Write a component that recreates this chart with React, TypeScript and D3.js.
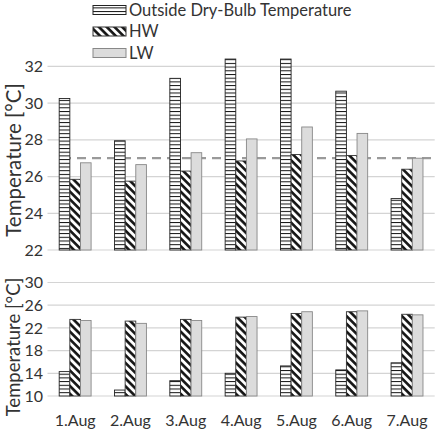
import React from "react";
import * as d3 from "d3";

// Daily values, 1-7 August
const days = ["1.Aug", "2.Aug", "3.Aug", "4.Aug", "5.Aug", "6.Aug", "7.Aug"];
const seriesKeys = ["outside", "hw", "lw"];

// Daily maximum (top panel)
const maxOutside = [30.25, 27.95, 31.35, 32.4, 32.4, 30.65, 24.8];
const maxHW = [25.85, 25.75, 26.3, 26.85, 27.2, 27.15, 26.4];
const maxLW = [26.75, 26.65, 27.3, 28.05, 28.7, 28.35, 27.0];
const maxTicks = [22, 24, 26, 28, 30, 32];
const comfortLimit = 27;

// Daily minimum (bottom panel)
const minOutside = [14.3, 11.05, 12.7, 14.0, 15.3, 14.6, 15.85];
const minHW = [23.5, 23.2, 23.5, 23.9, 24.55, 24.85, 24.4];
const minLW = [23.3, 22.8, 23.3, 24.0, 24.85, 25.0, 24.3];
const minTicks = [10, 14, 18, 22, 26, 30];

const legendItems = [
  { key: "outside", label: "Outside Dry-Bulb Temperature" },
  { key: "hw", label: "HW" },
  { key: "lw", label: "LW" },
];

const W = 442;
const H = 434;
const FONT = "Lato, 'Open Sans', sans-serif";
const TEXT = "#333";
const GRID = "#d4d4d4";

const fills: Record<string, string> = {
  outside: "url(#hstripe)",
  hw: "url(#diag)",
  lw: "#dcdcdc",
};
const strokes: Record<string, string> = {
  outside: "#222",
  hw: "#333",
  lw: "#888",
};

const x0 = d3.scaleBand<string>().domain(days).range([47.5, 434.7]);
const x1 = d3.scaleBand<string>().domain(seriesKeys).range([11.7, 43.6]);

type PanelProps = {
  values: number[][];
  domain: [number, number];
  range: [number, number];
  ticks: number[];
  labelY: number;
  labelSize: number;
  limit?: number;
};

const Panel = ({ values, domain, range, ticks, labelY, labelSize, limit }: PanelProps) => {
  const y = d3.scaleLinear().domain(domain).range(range);
  const [left, right] = x0.range();
  return (
    <g>
      {ticks.map((t) => (
        <g key={t}>
          <line x1={left} x2={right} y1={y(t)} y2={y(t)} stroke={GRID} strokeWidth={1.2} />
          <text x={43} y={y(t)} dy="0.35em" textAnchor="end" fontSize={16} fill={TEXT}>
            {t}
          </text>
        </g>
      ))}
      {limit !== undefined && (
        <line
          x1={62}
          x2={432}
          y1={y(limit)}
          y2={y(limit)}
          stroke="#9a9a9a"
          strokeWidth={2.2}
          strokeDasharray="9 6"
        />
      )}
      {days.map((d, i) => (
        <g key={d} transform={`translate(${x0(d)},0)`}>
          {seriesKeys.map((k, j) => {
            const v = values[j][i];
            return (
              <rect
                key={k}
                x={x1(k)}
                y={y(v)}
                width={x1.bandwidth()}
                height={y(domain[0]) - y(v)}
                fill={fills[k]}
                stroke={strokes[k]}
                strokeWidth={0.9}
              />
            );
          })}
        </g>
      ))}
      <text
        transform={`translate(14,${labelY}) rotate(-90)`}
        textAnchor="middle"
        dy="0.35em"
        fontSize={labelSize}
        fill={TEXT}
      >
        Temperature [°C]
      </text>
    </g>
  );
};

export default function App() {
  return (
    <svg width={W} height={H} style={{ position: "absolute", left: 0, top: 0, background: "#fff" }} fontFamily={FONT}>
      <defs>
        <pattern id="hstripe" patternUnits="userSpaceOnUse" width={4} height={3.7}>
          <rect width={4} height={3.7} fill="#fff" />
          <line x1={0} x2={4} y1={0.5} y2={0.5} stroke="#111" strokeWidth={1} />
        </pattern>
        <pattern id="diag" patternUnits="userSpaceOnUse" width={5.5} height={5.5} patternTransform="rotate(-45)">
          <rect width={5.5} height={5.5} fill="#fff" />
          <line x1={1.4} x2={1.4} y1={0} y2={5.5} stroke="#111" strokeWidth={2.6} />
        </pattern>
      </defs>

      {/* legend */}
      {legendItems.map((it, i) => {
        const cy = [10, 31.5, 53][i];
        return (
          <g key={it.key}>
            <rect x={93} y={cy - 4.5} width={33} height={9} fill={fills[it.key]} stroke={strokes[it.key]} strokeWidth={1} />
            <text x={129} y={cy} dy="0.36em" fontSize={16.5} fill={TEXT}>
              {it.label}
            </text>
          </g>
        );
      })}

      <Panel
        values={[maxOutside, maxHW, maxLW]}
        domain={[22, 32]}
        range={[250, 66.4]}
        ticks={maxTicks}
        labelY={160}
        labelSize={20.5}
        limit={comfortLimit}
      />
      <Panel
        values={[minOutside, minHW, minLW]}
        domain={[10, 30]}
        range={[396, 282.5]}
        ticks={minTicks}
        labelY={347}
        labelSize={18.5}
      />

      {days.map((d) => (
        <text key={d} x={(x0(d) as number) + x0.bandwidth() / 2} y={426} textAnchor="middle" fontSize={16} fill={TEXT}>
          {d}
        </text>
      ))}
    </svg>
  );
}
